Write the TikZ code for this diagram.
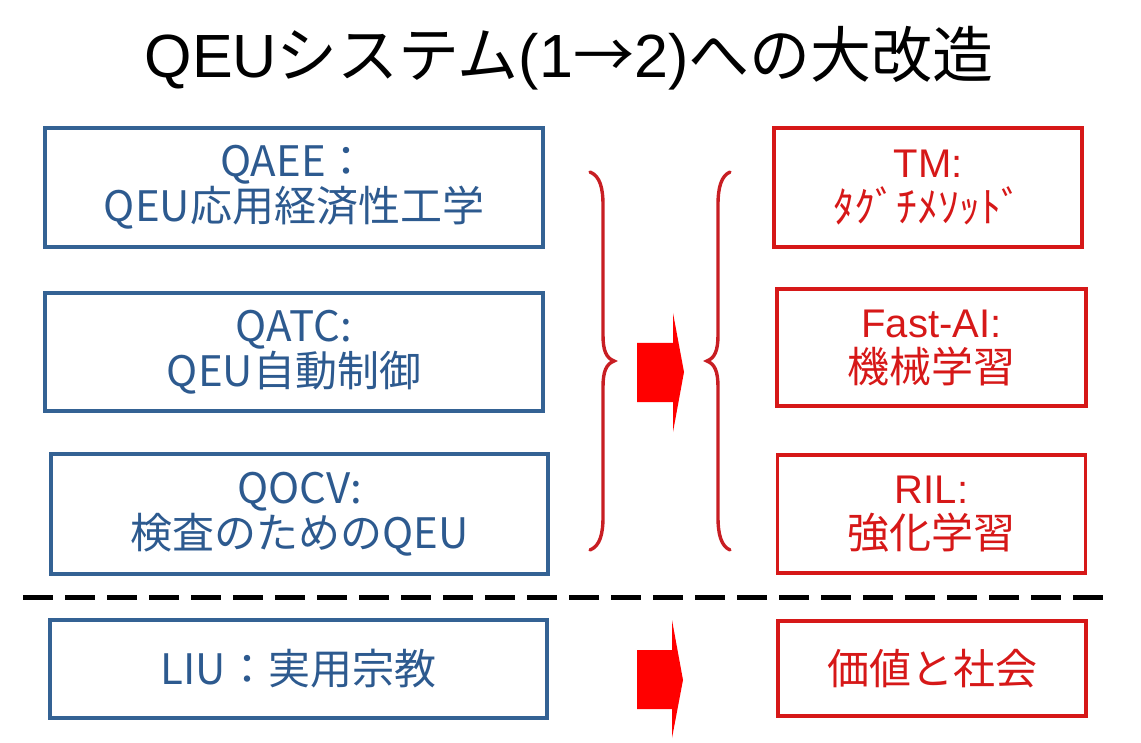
\documentclass[tikz,border=0pt]{standalone}
\usepackage{fontspec}
\setmainfont{Liberation Sans}
\newfontfamily\jp{Noto Sans CJK JP}
\newcommand\jpbig{\jp\fontsize{42}{45}\selectfont}
\definecolor{boxblue}{RGB}{52,98,148}
\definecolor{txtblue}{RGB}{45,90,143}
\definecolor{boxred}{RGB}{214,24,24}
\definecolor{txtred}{RGB}{214,24,24}
\definecolor{bracered}{RGB}{200,30,35}
\definecolor{arrowred}{RGB}{255,0,0}
\begin{document}
\begin{tikzpicture}[x=1pt,y=-1pt,
  bluebox/.style={draw=boxblue, line width=3.4pt, text=txtblue, inner sep=0pt,
    align=center, font=\jp\fontsize{42}{45}\selectfont},
  redbox/.style={draw=boxred, line width=3.8pt, text=txtred, inner sep=0pt,
    align=center, font=\fontsize{40}{45}\selectfont},
  bracepath/.style={draw=bracered, line width=3.4pt, line cap=round},
  blockarrow/.style={fill=arrowred},
  divider/.style={line width=5pt, dash pattern=on 30pt off 12pt},
]
\useasboundingbox (0,0) rectangle (1141,743);

% title
\node[font=\fontsize{61}{70}\selectfont, anchor=base] (title) at (569,78)
  {QEU{\jp システム}(1{\jp →}2){\jp への大改造}};

% system 1 (left column)
\node[bluebox, minimum width=498pt, minimum height=119pt] (qaee) at (294,187.5)
  {QAEE：\\QEU応用経済性工学};
\node[bluebox, minimum width=498pt, minimum height=118pt] (qatc) at (294,352)
  {QATC:\\QEU自動制御};
\node[bluebox, minimum width=497pt, minimum height=120pt] (qocv) at (299.5,514)
  {QOCV:\\検査のためのQEU};
\node[bluebox, minimum width=497pt, minimum height=98pt] (liu) at (298.5,669)
  {LIU：実用宗教};

% system 2 (right column)
\node[redbox, minimum width=308pt, minimum height=119pt] (tm) at (928,187.5)
  {TM:\\{\jpbig ﾀｸﾞﾁﾒｿｯﾄﾞ}};
\node[redbox, minimum width=309pt, minimum height=117pt] (fastai) at (931.5,347.5)
  {Fast-AI:\\{\jpbig 機械学習}};
\node[redbox, minimum width=308pt, minimum height=118pt] (ril) at (931.5,514)
  {RIL:\\{\jpbig 強化学習}};
\node[redbox, minimum width=308pt, minimum height=95pt] (value) at (932,668.5)
  {\jpbig 価値と社会};

% braces grouping the three modules
\draw[bracepath] (590,172) .. controls (600,176) and (603,188) .. (603,205)
  -- (603,335) .. controls (603,350) and (606,358) .. (614,361)
  .. controls (606,364) and (603,372) .. (603,387)
  -- (603,517) .. controls (603,534) and (600,546) .. (590,550);
\draw[bracepath] (730,172) .. controls (721,176) and (718,188) .. (718,205)
  -- (718,335) .. controls (718,350) and (715,358) .. (707,361)
  .. controls (715,364) and (718,372) .. (718,387)
  -- (718,517) .. controls (718,534) and (721,546) .. (730,550);

% block arrows
\fill[blockarrow] (637,343) -- (673,343) -- (673,313) -- (684,372)
  -- (673,432) -- (673,402) -- (637,402) -- cycle;
\fill[blockarrow] (637,650) -- (672,650) -- (672,620) -- (683,680)
  -- (672,738) -- (672,709) -- (637,709) -- cycle;

% separator
\coordinate (sepL) at (23,597);
\coordinate (sepR) at (1103,597);
\draw[divider] (sepL) -- (sepR);
\end{tikzpicture}
\end{document}
